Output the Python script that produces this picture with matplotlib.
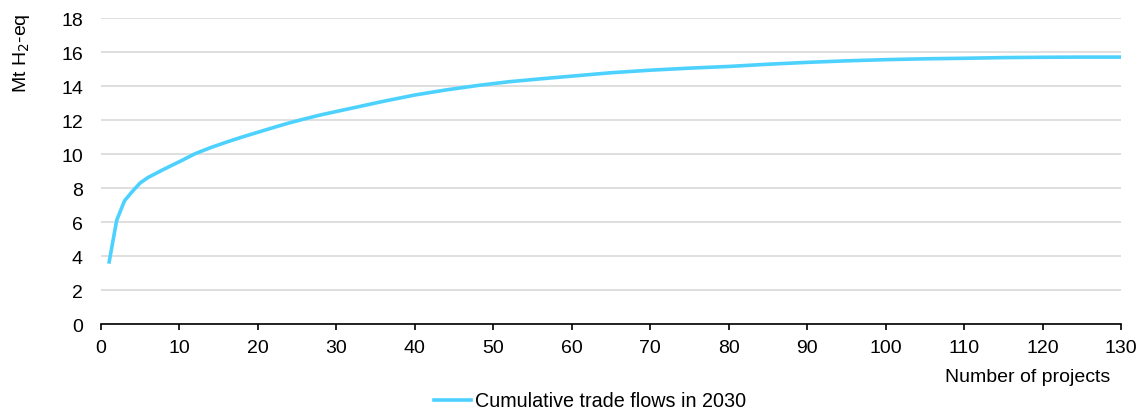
import matplotlib
matplotlib.use("Agg")
import matplotlib.pyplot as plt
from matplotlib.lines import Line2D

plt.rcParams['font.family'] = ['Liberation Sans', 'DejaVu Sans']

projects = [1, 2, 3, 4, 5, 6, 8, 10, 12, 14, 16, 18, 20, 22, 24, 26, 28, 30, 33, 36,
            40, 44, 48, 52, 56, 60, 65, 70, 75, 80, 85, 90, 95, 100, 105, 110, 115,
            120, 125, 130]
cumulative = [3.55, 6.1, 7.25, 7.8, 8.3, 8.62, 9.1, 9.55, 10.02, 10.38, 10.7, 11.0,
              11.28, 11.56, 11.83, 12.07, 12.3, 12.5, 12.8, 13.1, 13.47, 13.77, 14.03,
              14.25, 14.42, 14.58, 14.78, 14.93, 15.05, 15.15, 15.28, 15.39, 15.48,
              15.55, 15.6, 15.63, 15.67, 15.69, 15.7, 15.7]
series_label = "Cumulative trade flows in 2030"
x_ticks = list(range(0, 131, 10))
y_ticks = list(range(0, 19, 2))

color = '#4DD2FF'
FS = 14

fig = plt.figure(figsize=(11.44, 4.14), dpi=100)
ax = fig.add_axes([101/1144, 1 - 325/414, (1121 - 101)/1144, (325 - 19)/414])

ax.plot(projects, cumulative, color=color, lw=2.6, solid_capstyle='butt',
        solid_joinstyle='round', zorder=3)

ax.set_xlim(0, 130)
ax.set_ylim(0, 18)
ax.set_xticks(x_ticks)
ax.set_yticks(y_ticks)
ax.yaxis.grid(True, color='#d9d9d9', lw=1.2)
ax.set_axisbelow(True)
for s in ['top', 'right', 'left']:
    ax.spines[s].set_visible(False)
ax.spines['bottom'].set_color('black')
ax.spines['bottom'].set_linewidth(1.2)
ax.tick_params(axis='x', direction='out', length=4, width=1.2, labelsize=FS, pad=6.5, colors='black')
ax.tick_params(axis='y', length=0, labelsize=FS, pad=13)

fig.text(1110/1144, 1 - 378/414, "Number of projects", ha='right', va='center', fontsize=FS)
fig.text(22/1144, 1 - 13/414, "Mt H$_2$-eq", rotation=90, ha='center', va='top', fontsize=FS)

handle = Line2D([], [], color=color, lw=2.6)
fig.legend([handle], [series_label], loc='center', bbox_to_anchor=(590/1144, 1 - 402/414),
           frameon=False, fontsize=14.2, handlelength=1.88, handletextpad=0.2,
           borderpad=0, borderaxespad=0)

fig.savefig("out.png", dpi=100)
